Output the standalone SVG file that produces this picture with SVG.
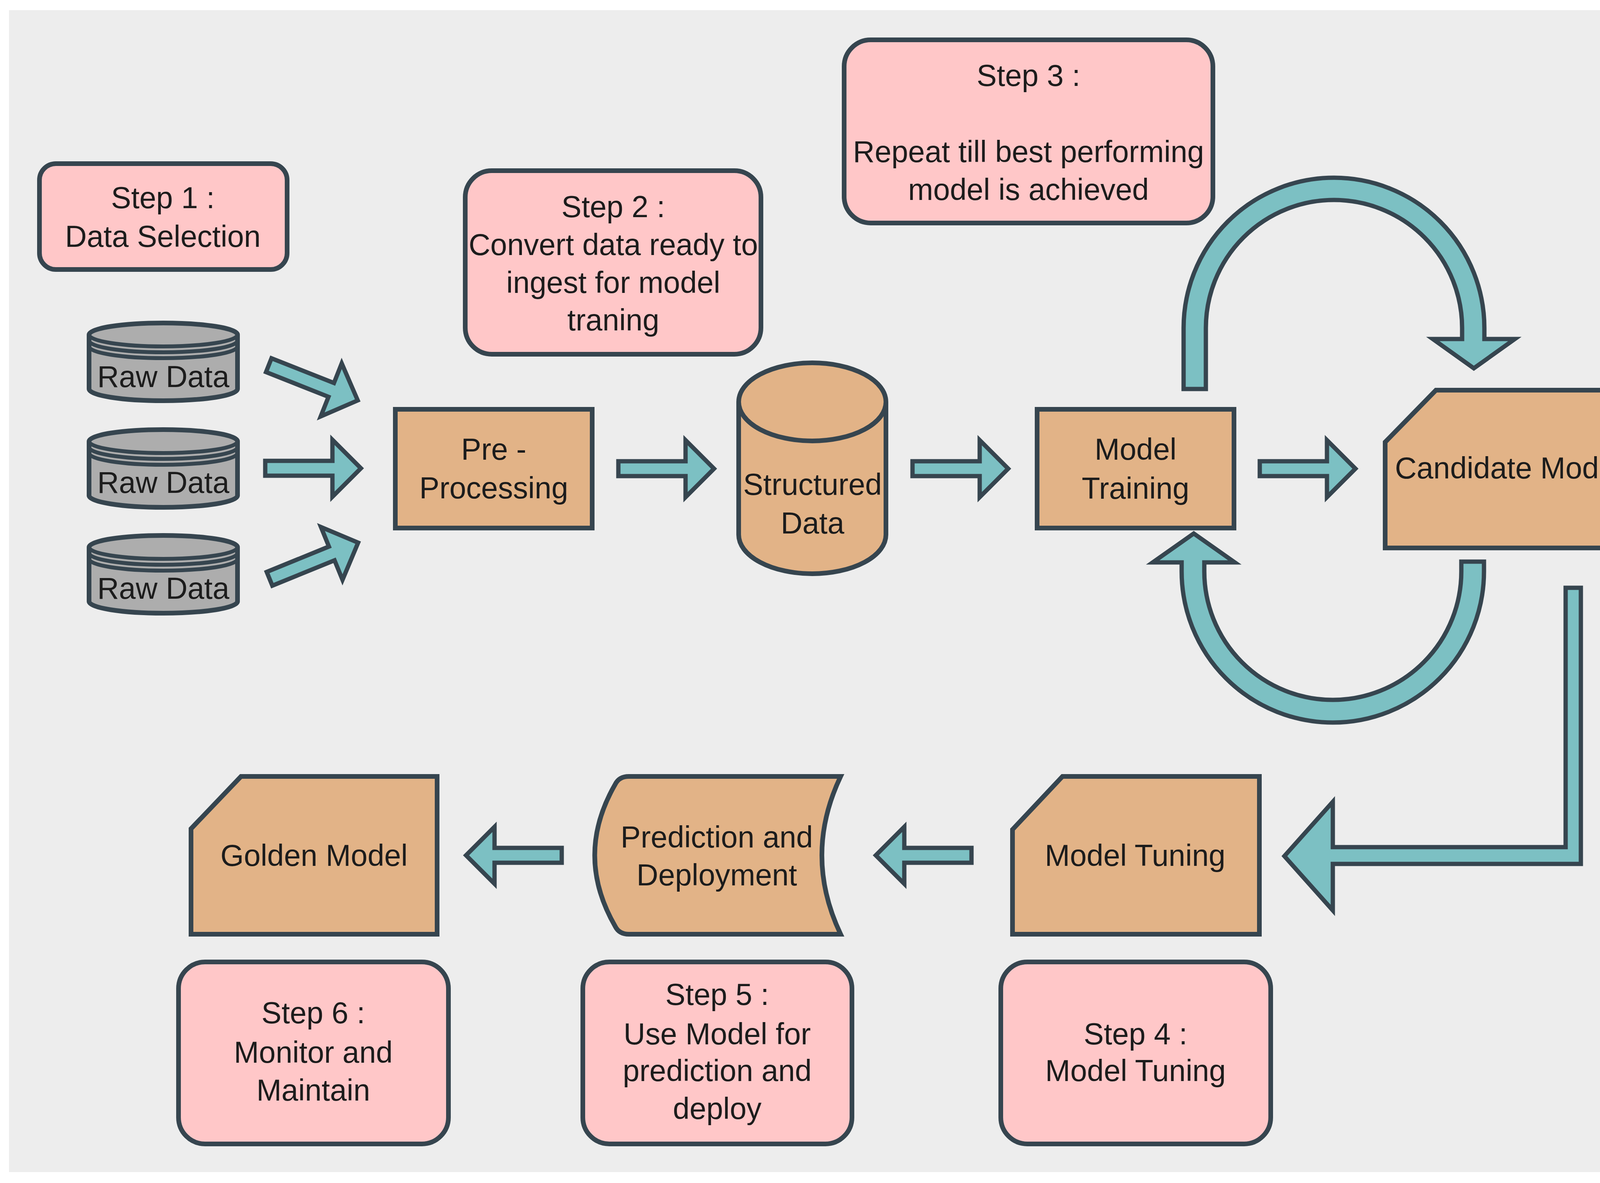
<svg xmlns="http://www.w3.org/2000/svg" width="4325" height="3029" viewBox="0 0 4325 3029">
<style>
.bg{fill:#ededed}
.step{fill:#ffc7c8;stroke:#36454f;stroke-width:12}
.proc{fill:#e2b387;stroke:#36454f;stroke-width:12;stroke-linejoin:miter}
.ds{fill:#adadad;stroke:#36454f;stroke-width:12}
.ring{fill:none;stroke:#36454f;stroke-width:10}
.arrow{fill:#7cc0c3;stroke:#36454f;stroke-width:11;stroke-linejoin:miter;stroke-miterlimit:10}
text{font-family:"Liberation Sans",Arial,Helvetica,sans-serif;font-size:77px;fill:#1c1c1c;text-anchor:middle}
</style>
<defs>
<path id="blk" d="M0,-19 L172,-19 L172,-73 L245,0 L172,73 L172,19 L0,19 Z"/>
<g id="rawcyl">
<path class="ds" d="M0,30 A190,30 0 0 1 380,30 L380,169 A190,30 0 0 1 0,169 Z"/>
<path class="ring" d="M0,30 A190,30 0 0 0 380,30 M0,45 A190,30 0 0 0 380,45 M0,60 A190,30 0 0 0 380,60"/>
</g>
</defs>
<rect x="0" y="0" width="4325" height="3029" fill="#ffffff"/>
<rect class="bg" x="23" y="26" width="4272" height="2975"/>

<g id="connectors">
<use href="#blk" class="arrow" transform="translate(688,935) rotate(21.6)"/>
<use href="#blk" class="arrow" transform="translate(679,1199)"/>
<use href="#blk" class="arrow" transform="translate(690,1482) rotate(-22.2)"/>
<use href="#blk" class="arrow" transform="translate(1583,1200)"/>
<use href="#blk" class="arrow" transform="translate(2336,1200)"/>
<use href="#blk" class="arrow" transform="translate(3225,1200)"/>
<use href="#blk" class="arrow" transform="translate(2487,2190) rotate(180)"/>
<use href="#blk" class="arrow" transform="translate(1438,2190) rotate(180)"/>
<path class="arrow" d="M3030,996 L3030,840 A385,385 0 0 1 3800,840 L3800,868 L3878,868 L3773,943 L3668,868 L3743,868 L3743,840 A328,328 0 0 0 3087,840 L3087,996 Z"/>
<path class="arrow" d="M3799,1438 L3799,1463 A387,387 0 0 1 3025,1463 L3025,1440 L2951,1440 L3056,1366 L3161,1440 L3083,1440 L3083,1463 A329,329 0 0 0 3741,1463 L3741,1438 Z"/>
<path class="arrow" d="M4008,1505 L4047,1505 L4047,2212 L3412,2212 L3412,2331 L3288,2192 L3412,2053 L3412,2169 L4008,2169 Z"/>
</g>

<g id="step1">
<rect class="step" x="101" y="419" width="634" height="271" rx="42"/>
<text x="417" y="533">Step 1 :</text>
<text x="417" y="632">Data Selection</text>
</g>
<g id="step2">
<rect class="step" x="1191" y="437" width="757" height="470" rx="68"/>
<text x="1570" y="556">Step 2 :</text>
<text x="1570" y="653">Convert data ready to</text>
<text x="1570" y="750">ingest for model</text>
<text x="1570" y="846">traning</text>
</g>
<g id="step3">
<rect class="step" x="2161" y="102" width="944" height="469" rx="68"/>
<text x="2633" y="220">Step 3 :</text>
<text x="2633" y="415">Repeat till best performing</text>
<text x="2633" y="512">model is achieved</text>
</g>
<g id="raw1">
<use href="#rawcyl" transform="translate(228,827)"/>
<text x="418" y="991">Raw Data</text>
</g>
<g id="raw2">
<use href="#rawcyl" transform="translate(228,1100)"/>
<text x="418" y="1262">Raw Data</text>
</g>
<g id="raw3">
<use href="#rawcyl" transform="translate(228,1371)"/>
<text x="418" y="1533">Raw Data</text>
</g>
<g id="preprocessing">
<rect class="proc" x="1012" y="1048" width="504" height="304"/>
<text x="1264" y="1177">Pre -</text>
<text x="1264" y="1276">Processing</text>
</g>
<g id="structured">
<path class="proc" d="M1891,1029 A188.5,100 0 0 1 2268,1029 L2268,1369 A188.5,100 0 0 1 1891,1369 Z"/>
<path class="ring" style="stroke-width:12" d="M1891,1029 A188.5,100 0 0 0 2268,1029"/>
<text x="2080" y="1267">Structured</text>
<text x="2080" y="1366">Data</text>
</g>
<g id="training">
<rect class="proc" x="2655" y="1048" width="504" height="304"/>
<text x="2907" y="1177">Model</text>
<text x="2907" y="1277">Training</text>
</g>
<g id="candidate">
<path class="proc" d="M3546,1132 L3676,999 L4178,999 L4178,1403 L3546,1403 Z"/>
<text x="3862" y="1225">Candidate Model</text>
</g>
<g id="tuning">
<path class="proc" d="M2592,2124 L2720,1988 L3224,1988 L3224,2392 L2592,2392 Z"/>
<text x="2906" y="2217">Model Tuning</text>
</g>
<g id="prediction">
<path class="proc" stroke-linejoin="round" d="M1610,1988 L2152,1988 Q2056,2190 2152,2392 L1610,2392 Q1585,2392 1575,2372 Q1470,2190 1575,2008 Q1585,1988 1610,1988 Z"/>
<text x="1835" y="2170">Prediction and</text>
<text x="1835" y="2267">Deployment</text>
</g>
<g id="golden">
<path class="proc" d="M489,2122 L617,1988 L1119,1988 L1119,2392 L489,2392 Z"/>
<text x="804" y="2217">Golden Model</text>
</g>
<g id="step4">
<rect class="step" x="2562" y="2463" width="691" height="466" rx="68"/>
<text x="2907" y="2674">Step 4 :</text>
<text x="2907" y="2768">Model Tuning</text>
</g>
<g id="step5">
<rect class="step" x="1492" y="2463" width="689" height="466" rx="68"/>
<text x="1836" y="2573">Step 5 :</text>
<text x="1836" y="2674">Use Model for</text>
<text x="1836" y="2768">prediction and</text>
<text x="1836" y="2865">deploy</text>
</g>
<g id="step6">
<rect class="step" x="457" y="2463" width="691" height="466" rx="68"/>
<text x="802" y="2620">Step 6 :</text>
<text x="802" y="2721">Monitor and</text>
<text x="802" y="2818">Maintain</text>
</g>
</svg>
